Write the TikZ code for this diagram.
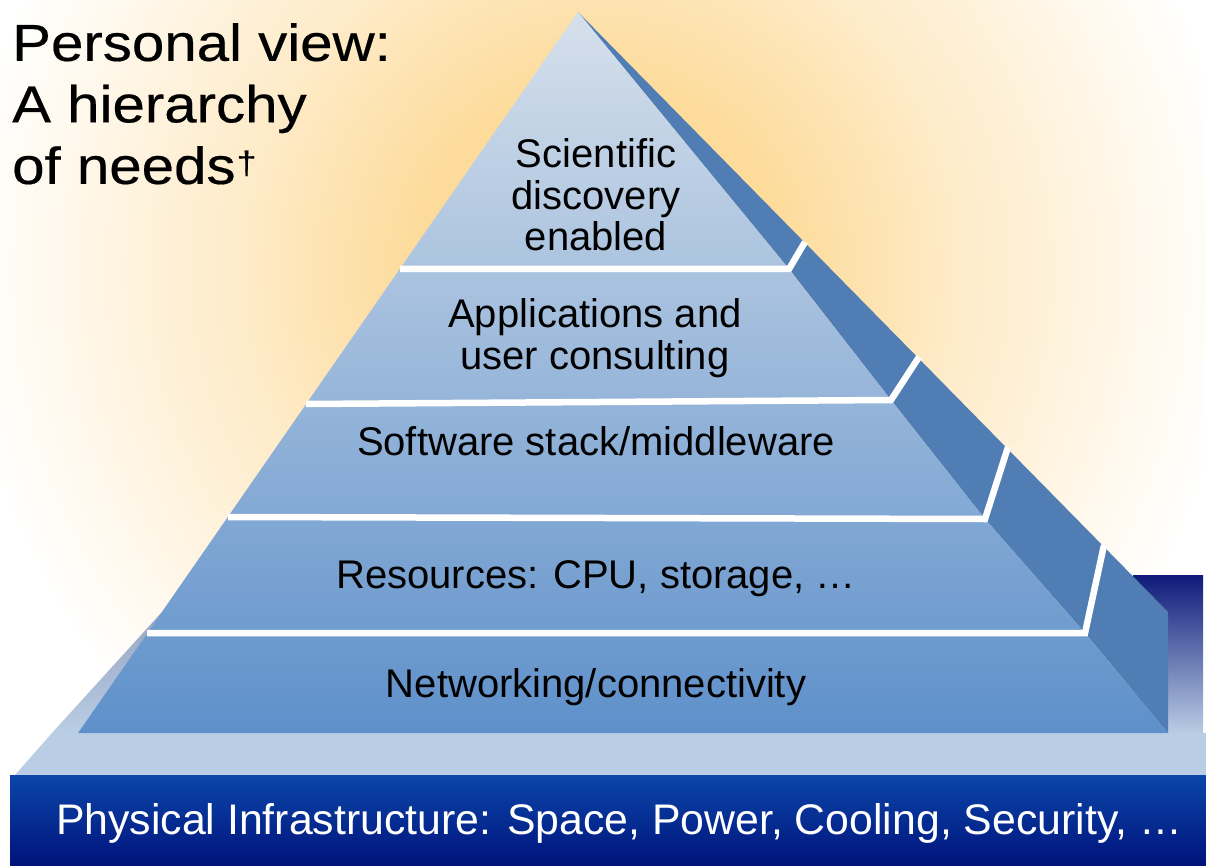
\documentclass[tikz,border=0pt]{standalone}
\usepackage{fontspec}
\setmainfont{Liberation Sans}
\newfontfamily\titlefont[FakeStretch=1.12,FakeBold=0.4]{Liberation Sans}
\definecolor{glowA}{HTML}{FDDB9A}
\definecolor{glowB}{HTML}{FEEBC8}
\definecolor{frontTop}{HTML}{D6E0EB}
\definecolor{frontBot}{HTML}{5E90CA}
\definecolor{sideFace}{HTML}{507DB3}
\definecolor{platLight}{HTML}{B9CDE4}
\definecolor{bandTop}{HTML}{0B46A8}
\definecolor{bandBot}{HTML}{00137C}
\definecolor{navyTop}{HTML}{0F1A7A}
\definecolor{navyMid}{HTML}{6C78A8}
\definecolor{sliverTop}{HTML}{98A5C2}
\pgfdeclareradialshading{glow}{\pgfpoint{0bp}{0bp}}{color(0bp)=(glowA); color(7bp)=(glowA); color(14bp)=(glowB); color(25bp)=(white); color(50bp)=(white)}
\begin{document}
\begin{tikzpicture}[x=1pt,y=-1pt,
  sepline/.style={draw=white,line width=6.5pt,line join=miter},
  tierlabel/.style={font=\fontsize{40}{41.5}\selectfont,text=black,align=center,inner sep=0pt},
]
\useasboundingbox (0,0) rectangle (1206,866);
\begin{scope}
  \clip (0,0) rectangle (1206,866);
  \fill[white] (0,0) rectangle (1206,866);
  \shade[shading=glow] (600,270) circle [radius=640pt];
\end{scope}

% key points
\coordinate (apex) at (578,12);
\coordinate (bl) at (78,733);
\coordinate (br) at (1168,733);
\coordinate (outer) at (1168,612);
\coordinate (c1) at (789,269);
\coordinate (c2) at (891,400);
\coordinate (c3) at (985,519);
\coordinate (c4) at (1085,633);
\coordinate (l1) at (400,269);
\coordinate (l2) at (306,404);
\coordinate (l3) at (228,517);
\coordinate (l4) at (147,633);
\coordinate (o1) at (805,242);
\coordinate (o2) at (919,357);
\coordinate (o3) at (1008,447);
\coordinate (o4) at (1104,545);

% navy bar at right
\shade[top color=navyTop, middle color=navyMid, bottom color=platLight] (1133,575) rectangle (1203,733);
% platform top
\fill[platLight] (15,775) -- (52,733) -- (1206,733) -- (1206,775) -- cycle;
% left sliver
\shade[top color=sliverTop, bottom color=platLight] (162,612) -- (52,733) -- (78,733) -- cycle;
% bottom band
\shade[top color=bandTop, bottom color=bandBot] (10,775) rectangle (1206,866);

% side face
\fill[sideFace] (apex) -- (outer) -- (br) -- (c4) -- (c3) -- (c2) -- (c1) -- cycle;
% front face
\shade[top color=frontTop, bottom color=frontBot] (apex) -- (c1) -- (c2) -- (c3) -- (c4) -- (br) -- (bl) -- cycle;

% separators
\draw[sepline] (l1) -- (c1) -- (o1);
\draw[sepline] (l2) -- (c2) -- (o2);
\draw[sepline] (l3) -- (c3) -- (o3);
\draw[sepline] (l4) -- (c4) -- (o4);

% labels
\node[tierlabel] (sci) at (596,195) {Scientific\\discovery\\enabled};
\node[tierlabel] (app) at (595,338) {Applications and\\user consulting};
\node[tierlabel,anchor=base] (soft) at (596,455) {Software stack/middleware};
\node[tierlabel,anchor=base] (res) at (596,588) {Resources: CPU, storage, …};
\node[tierlabel,anchor=base] (net) at (596,697) {Networking/connectivity};
\node[font=\fontsize{42.8}{44}\selectfont,text=white,anchor=base,inner sep=0pt] (phys) at (619,834) {Physical Infrastructure: Space, Power, Cooling, Security, …};
\node[font=\titlefont\fontsize{52}{61.5}\selectfont,text=black,align=left,anchor=north west,inner sep=0pt] (title) at (12,23) {Personal view:\\A hierarchy\\of needs\kern1pt\raisebox{10pt}{\fontsize{32}{32}\selectfont †}};
\end{tikzpicture}
\end{document}
